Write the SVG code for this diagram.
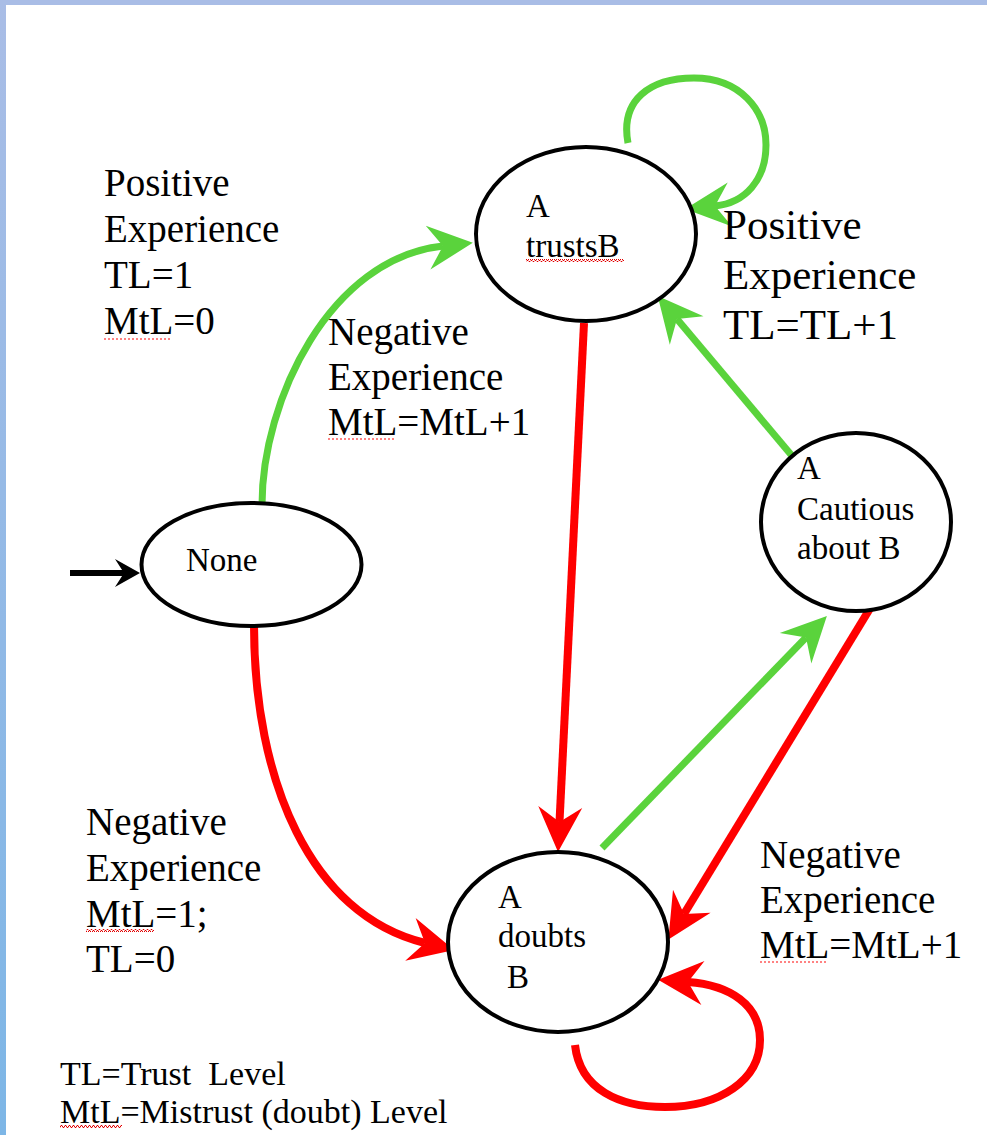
<svg xmlns="http://www.w3.org/2000/svg" width="987" height="1135" viewBox="0 0 987 1135">
<style>
.node{fill:#fff;stroke:#000;stroke-width:4}
.t{font-family:'Liberation Serif','Times New Roman','DejaVu Serif',serif;fill:#000}
.nt{font-size:33px}
.lb{font-size:39px}
.lb2{font-size:43px}
.lg{font-size:34px}
.g{fill:none;stroke:#5ad33c;stroke-width:7}
.r{fill:none;stroke:#ff0000;stroke-width:8}
.k{fill:none;stroke:#000;stroke-width:6}
.dot{fill:none;stroke:#ff3030;stroke-width:1.3;stroke-dasharray:2 2;opacity:0.8}
</style>
<defs>
<linearGradient id="bord" x1="0" y1="0" x2="0" y2="1">
<stop offset="0" stop-color="#a9bde6"/>
<stop offset="1" stop-color="#7db6e6"/>
</linearGradient>
<pattern id="wave" width="4" height="3" patternUnits="userSpaceOnUse">
<path d="M0,2.5 L1,0.5 L2,0.5 L3,2.5 L4,2.5" fill="none" stroke="#e00000" stroke-width="1"/>
</pattern>
<marker id="ag" markerUnits="userSpaceOnUse" markerWidth="60" markerHeight="60" refX="0" refY="0" orient="auto" overflow="visible" viewBox="-20 -30 60 60">
<path d="M30,0 L-15,-22 L0,0 L-15,22 Z" fill="#5ad33c"/>
</marker>
<marker id="ar" markerUnits="userSpaceOnUse" markerWidth="60" markerHeight="60" refX="0" refY="0" orient="auto" overflow="visible" viewBox="-20 -30 60 60">
<path d="M30,0 L-15,-22 L0,0 L-15,22 Z" fill="#ff0000"/>
</marker>
<marker id="ak" markerUnits="userSpaceOnUse" markerWidth="40" markerHeight="40" refX="0" refY="0" orient="auto" overflow="visible" viewBox="-20 -20 40 40">
<path d="M16,0 L-9,-14 L0,0 L-9,14 Z" fill="#000"/>
</marker>
</defs>
<rect x="0" y="0" width="987" height="1135" fill="#fff"/>
<rect x="0" y="0" width="987" height="5" fill="#a9bde6"/>
<rect x="0" y="0" width="6" height="1135" fill="url(#bord)"/>

<g id="connectors">
<path class="k" d="M70,573 L124,573" marker-end="url(#ak)"/>
<path class="g" d="M262,505 C262,400 330,258 443,246" marker-end="url(#ag)"/>
<path class="g" d="M628,143 C620,100 650,78 694,78 C740,78 766,110 766,145 C766,180 745,203 715,206" marker-end="url(#ag)"/>
<path class="r" d="M584,323 L559.5,822" marker-end="url(#ar)"/>
<path class="r" d="M254,625 C254,780 310,915 425,943" marker-end="url(#ar)"/>
<path class="g" d="M602,848 L806,637.5" marker-end="url(#ag)"/>
<path class="g" d="M793,457 L677,319" marker-end="url(#ag)"/>
<path class="r" d="M877,597 L684,914" marker-end="url(#ar)"/>
<path class="r" d="M575,1045 C580,1090 620,1107 665,1107 C720,1107 760,1080 760,1040 C760,1005 730,985 688,982" marker-end="url(#ar)"/>
</g>

<g id="node-none">
<ellipse class="node" cx="251.5" cy="564.5" rx="110" ry="61.5"/>
<text class="t nt" x="186" y="571" font-family="Liberation Serif, serif">None</text>
</g>
<g id="node-trusts">
<ellipse class="node" cx="586" cy="234" rx="110" ry="87"/>
<text class="t nt" x="526" y="217" font-family="Liberation Serif, serif">A</text>
<text class="t nt" x="526" y="257" font-family="Liberation Serif, serif">trustsB</text>
<rect x="526" y="259" width="98" height="3" fill="url(#wave)"/>
</g>
<g id="node-cautious">
<ellipse class="node" cx="856" cy="522" rx="95" ry="89"/>
<text class="t nt" x="797" y="479" font-family="Liberation Serif, serif">A</text>
<text class="t nt" x="797" y="520" font-family="Liberation Serif, serif">Cautious</text>
<text class="t nt" x="797" y="559" font-family="Liberation Serif, serif">about B</text>
</g>
<g id="node-doubts">
<ellipse class="node" cx="558" cy="942" rx="110" ry="90"/>
<text class="t nt" x="498" y="908" font-family="Liberation Serif, serif">A</text>
<text class="t nt" x="498" y="947" font-family="Liberation Serif, serif">doubts</text>
<text class="t nt" x="507" y="988" font-family="Liberation Serif, serif">B</text>
</g>

<g id="labels" font-family="Liberation Serif, serif">
<text class="t lb" x="104" y="196">Positive</text>
<text class="t lb" x="104" y="242">Experience</text>
<text class="t lb" x="104" y="288">TL=1</text>
<text class="t lb" x="104" y="334">MtL=0</text>
<path class="dot" d="M104,339 L172,339"/>

<text class="t lb" x="328" y="345">Negative</text>
<text class="t lb" x="328" y="390">Experience</text>
<text class="t lb" x="328" y="435">MtL=MtL+1</text>
<path class="dot" d="M328,439 L395,439"/>

<text class="t lb2" x="723" y="239">Positive</text>
<text class="t lb2" x="723" y="289">Experience</text>
<text class="t lb2" x="723" y="339">TL=TL+1</text>

<text class="t lb" x="86" y="835">Negative</text>
<text class="t lb" x="86" y="881">Experience</text>
<text class="t lb" x="86" y="927">MtL=1;</text>
<rect x="86" y="929" width="68" height="3" fill="url(#wave)"/>
<text class="t lb" x="86" y="972">TL=0</text>

<text class="t lb" x="760" y="868">Negative</text>
<text class="t lb" x="760" y="913">Experience</text>
<text class="t lb" x="760" y="958">MtL=MtL+1</text>
<path class="dot" d="M760,962 L826,962"/>
</g>

<g id="legend" font-family="Liberation Serif, serif">
<text class="t lg" x="60" y="1085" xml:space="preserve">TL=Trust  Level</text>
<text class="t lg" x="60" y="1123">MtL=Mistrust (doubt) Level</text>
<rect x="60" y="1125" width="62" height="3" fill="url(#wave)"/>
</g>
</svg>
